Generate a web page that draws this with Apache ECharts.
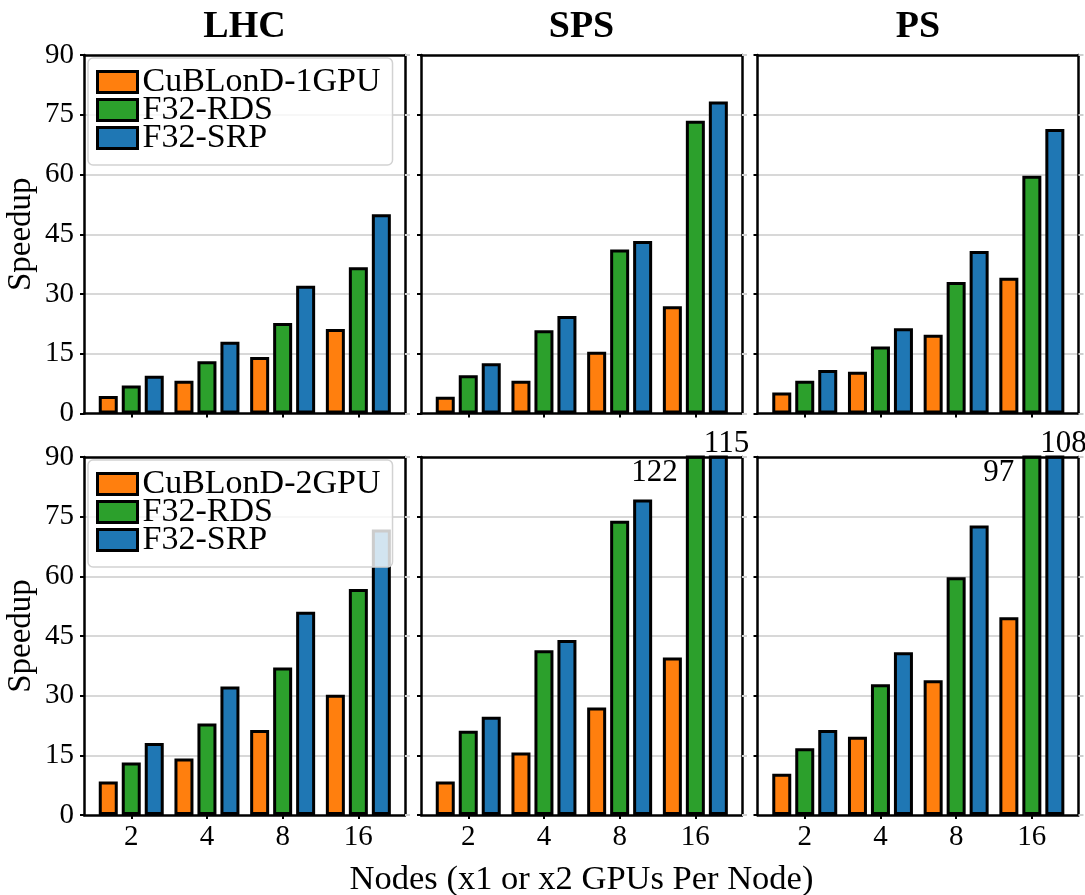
<!DOCTYPE html>
<html>
<head>
<meta charset="utf-8">
<script src="https://cdn.jsdelivr.net/npm/echarts@6/dist/echarts.min.js"></script>
<style>
  html, body { margin: 0; padding: 0; background: #fff; }
  #chart { width: 1085px; height: 895px; }
</style>
</head>
<body>
<div id="chart"></div>
<script>
// Speedup per node count, for three rings, one and two GPUs per node
const nodes = ['2', '4', '8', '16'];
const machines = ['LHC', 'SPS', 'PS'];
const namesOneGpu = ['CuBLonD-1GPU', 'F32-RDS', 'F32-SRP'];
const namesTwoGpu = ['CuBLonD-2GPU', 'F32-RDS', 'F32-SRP'];
const yMax = 90;
const yStep = 15;

// x1 GPU per node
const lhc1Cub = [4.4, 8.2, 14.2, 21.2];
const lhc1Rds = [7.0, 13.1, 22.7, 36.7];
const lhc1Srp = [9.5, 18.0, 32.1, 50.0];
const sps1Cub = [4.2, 8.2, 15.5, 26.9];
const sps1Rds = [9.6, 20.9, 41.2, 73.5];
const sps1Srp = [12.6, 24.5, 43.3, 78.3];
const ps1Cub = [5.3, 10.5, 19.8, 34.1];
const ps1Rds = [8.2, 16.8, 33.0, 59.7];
const ps1Srp = [10.9, 21.4, 40.8, 71.4];

// x2 GPUs per node
const lhc2Cub = [8.4, 14.2, 21.4, 30.2];
const lhc2Rds = [13.2, 23.0, 37.1, 56.8];
const lhc2Srp = [18.1, 32.3, 51.1, 71.8];
const sps2Cub = [8.4, 15.7, 27.0, 39.6];
const sps2Rds = [21.2, 41.4, 74.0, 122];
const sps2Srp = [24.7, 44.0, 79.3, 115];
const ps2Cub = [10.4, 19.7, 33.9, 49.7];
const ps2Rds = [16.8, 32.9, 59.8, 97];
const ps2Srp = [21.4, 40.9, 72.8, 108];

const rows = [
  { names: namesOneGpu, panels: [[lhc1Cub, lhc1Rds, lhc1Srp], [sps1Cub, sps1Rds, sps1Srp], [ps1Cub, ps1Rds, ps1Srp]] },
  { names: namesTwoGpu, panels: [[lhc2Cub, lhc2Rds, lhc2Srp], [sps2Cub, sps2Rds, sps2Srp], [ps2Cub, ps2Rds, ps2Srp]] }
];

const colors = ['#ff7f0e', '#2ca02c', '#1f77b4'];
const FONT = 'Liberation Serif';

// panel geometry
const colLeft = [84, 421, 757.5];
const panelW = 321;
const rowTop = [55, 457];
const rowH = [358.5, 358];
const bandInset = 9.4;       // plot margin either side of the outer categories
const bandW = 302.8;

const grids = [], xAxes = [], yAxes = [], series = [];

const frameLine = { show: true, onZero: false, lineStyle: { color: '#000', width: 2.5 } };

rows.forEach((row, r) => {
  row.panels.forEach((panel, c) => {
    // outer frame grid: gridlines, spines, y ticks
    const go = grids.length;
    grids.push({ left: colLeft[c], top: rowTop[r], width: panelW, height: rowH[r] });
    ['bottom', 'top'].forEach(pos => xAxes.push({
      gridIndex: go, type: 'value', min: 0, max: 1, position: pos, z: 5,
      axisLine: frameLine, axisTick: { show: false }, axisLabel: { show: false }, splitLine: { show: false }
    }));
    yAxes.push({
      gridIndex: go, type: 'value', min: 0, max: yMax, interval: yStep, position: 'left', z: 0,
      axisLine: { show: false, onZero: false }, axisTick: { show: false }, axisLabel: { show: false },
      splitLine: { show: true, showMinLine: false, showMaxLine: false, lineStyle: { color: '#d8d8d8', width: 2.2 } }
    });
    yAxes.push({
      gridIndex: go, type: 'value', min: 0, max: yMax, interval: yStep, position: 'left', z: 5,
      axisLine: frameLine,
      axisTick: { show: true, length: 4, lineStyle: { color: '#000', width: 2 } },
      axisLabel: { show: c === 0, color: '#000', fontFamily: FONT, fontSize: 29, margin: 10 },
      splitLine: { show: false },
      name: c === 0 ? 'Speedup' : '', nameLocation: 'middle', nameGap: 46, nameRotate: 90,
      nameTextStyle: { color: '#000', fontFamily: FONT, fontSize: 33 }
    });
    yAxes.push({
      gridIndex: go, type: 'value', min: 0, max: yMax, interval: yStep, position: 'right', z: 5,
      axisLine: frameLine,
      axisTick: { show: true, length: 5, lineStyle: { color: '#cfcfcf', width: 2 } },
      axisLabel: { show: false }, splitLine: { show: false }
    });

    // inner grid holding the bars on a category axis
    const gi = grids.length;
    grids.push({ left: colLeft[c] + bandInset, top: rowTop[r], width: bandW, height: rowH[r] });
    const xi = xAxes.length;
    xAxes.push({
      gridIndex: gi, type: 'category', data: nodes, boundaryGap: true, z: 5,
      axisLine: { show: false, onZero: false },
      axisTick: { show: true, alignWithLabel: true, length: 4, lineStyle: { color: '#000', width: 2 } },
      axisLabel: { show: r === 1, color: '#000', fontFamily: FONT, fontSize: 29, margin: 8 },
      splitLine: { show: false }
    });
    const yi = yAxes.length;
    yAxes.push({ gridIndex: gi, type: 'value', min: 0, max: yMax, interval: yStep, show: false });

    panel.forEach((values, s) => {
      const data = values.map(v => {
        if (v <= yMax) return v;
        // bars running past the top of the axis carry their value as text
        const label = s === 1
          ? { show: true, position: [-8, 17], align: 'right', verticalAlign: 'middle' }
          : { show: true, position: [-5, -12], align: 'left', verticalAlign: 'middle' };
        return { value: v, label: label };
      });
      series.push({
        type: 'bar', name: row.names[s], xAxisIndex: xi, yAxisIndex: yi,
        data: data, barWidth: 19, barGap: '21%', clip: true, z: 2,
        itemStyle: { color: colors[s], borderColor: '#000', borderWidth: 3 },
        label: { show: false, formatter: '{c}', color: '#000', fontFamily: FONT, fontSize: 31 },
        emphasis: { disabled: true }
      });
    });
  });
});

const legendBase = {
  orient: 'vertical', left: 88, icon: 'rect', itemWidth: 40, itemHeight: 21, itemGap: -6,
  padding: [7, 12, 10, 8], selectedMode: false,
  backgroundColor: 'rgba(255,255,255,0.8)', borderColor: '#d2d2d2', borderWidth: 1.5, borderRadius: 5,
  itemStyle: { borderColor: '#000', borderWidth: 3 },
  textStyle: { color: '#000', fontFamily: FONT, fontSize: 34 }
};

const titleText = machines.map((m, c) => ({
  type: 'text', x: colLeft[c] + panelW / 2, y: 27, z: 10,
  style: { text: m, fill: '#000', font: 'bold 38px "' + FONT + '"', align: 'center', verticalAlign: 'middle' }
}));

const chart = echarts.init(document.getElementById('chart'), null, { renderer: 'canvas' });
chart.setOption({
  animation: false,
  backgroundColor: '#fff',
  grid: grids,
  xAxis: xAxes,
  yAxis: yAxes,
  series: series,
  legend: [
    Object.assign({}, legendBase, { top: 58, data: namesOneGpu }),
    Object.assign({}, legendBase, { top: 460, data: namesTwoGpu })
  ],
  graphic: titleText.concat([{
    type: 'text', x: colLeft[1] + panelW / 2, y: 880, z: 10,
    style: { text: 'Nodes (x1 or x2 GPUs Per Node)', fill: '#000', font: '34.5px "' + FONT + '"', align: 'center', verticalAlign: 'middle' }
  }])
});
</script>
</body>
</html>
